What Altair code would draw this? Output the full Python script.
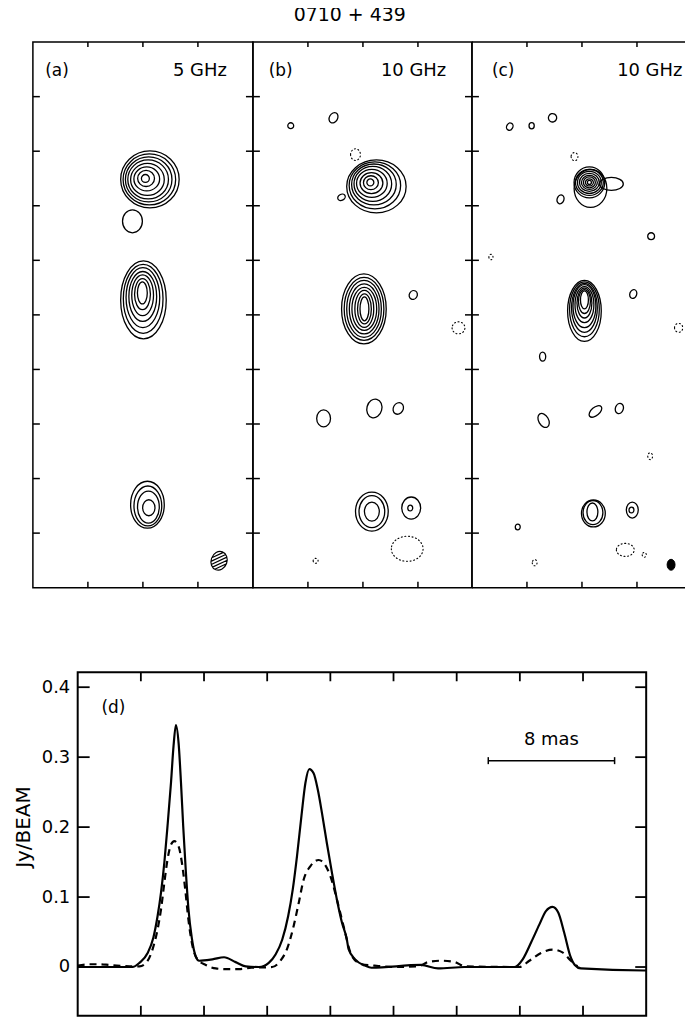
import math
import altair as alt
import pandas as pd

FONT = "DejaVu Sans"
PX = 13.75  # pixels per mas used for contour symbol sizing

# ---------------- panel (a) 5 GHz : contour centres / sizes (mas) ----------------
a_cx = [8.18, 8.23, 8.28, 8.33, 8.38, 8.42, 8.47, 8.51, 7.24,
        7.96, 7.97, 7.98, 7.99, 8.00, 8.02, 8.04,
        8.43, 8.40, 8.36, 8.33]
a_cy = [30.00, 30.00, 29.97, 29.93, 29.93, 29.93, 29.93, 29.93, 26.86,
        21.61, 21.52, 21.44, 21.35, 21.27, 21.18, 21.10,
        5.86, 5.91, 5.99, 6.08]
a_w = [0.58, 1.23, 1.88, 2.46, 2.97, 3.40, 3.84, 4.27, 1.45,
       0.72, 1.16, 1.59, 2.03, 2.46, 2.90, 3.33,
       0.90, 1.59, 2.03, 2.46]
a_h = [0.58, 1.17, 1.75, 2.34, 2.85, 3.29, 3.72, 4.16, 1.68,
       1.61, 2.26, 2.99, 3.65, 4.38, 5.04, 5.69,
       1.17, 2.34, 2.92, 3.43]
a_ang = [0] * 20
a_dot = [0] * 20

# ---------------- panel (b) 10 GHz ----------------
b_cx = [8.54, 8.58, 8.62, 8.65, 8.72, 8.80, 8.87, 8.98,
        6.44, 2.75, 5.86, 7.46,
        8.11, 8.11, 8.10, 8.10, 8.09, 8.08, 8.08, 8.07,
        11.66, 14.95,
        5.14, 8.83, 10.57,
        8.65, 8.65, 8.65,
        11.51, 11.44, 11.22, 4.56]
b_cy = [29.71, 29.69, 29.66, 29.64, 29.60, 29.56, 29.49, 29.42,
        28.62, 33.87, 34.45, 31.75,
        20.44, 20.44, 20.44, 20.44, 20.44, 20.44, 20.44, 20.44,
        21.46, 19.05,
        12.41, 13.14, 13.14,
        5.58, 5.58, 5.58,
        5.84, 5.84, 2.85, 1.97]
b_w = [0.51, 1.09, 1.67, 2.24, 2.75, 3.26, 3.76, 4.34,
       0.58, 0.43, 0.60, 0.72,
       0.65, 1.01, 1.38, 1.81, 2.17, 2.53, 2.90, 3.26,
       0.58, 0.94,
       1.01, 1.09, 0.72,
       1.09, 1.88, 2.39,
       1.38, 0.36, 2.32, 0.36]
b_h = [0.51, 1.02, 1.53, 2.04, 2.56, 2.99, 3.43, 3.87,
       0.44, 0.43, 0.80, 0.85,
       1.75, 2.19, 2.70, 3.14, 3.65, 4.16, 4.60, 5.11,
       0.66, 0.88,
       1.24, 1.39, 0.88,
       1.39, 2.34, 2.85,
       1.61, 0.42, 1.83, 0.36]
b_ang = [0] * 8 + [330, 0, 30, 0] + [0] * 8 + [30, 0] + [0, 15, 30] + [0, 0, 0] + [0, 0, 0, 0]
b_dot = [0] * 8 + [0, 0, 0, 1] + [0] * 8 + [0, 1] + [0, 0, 0] + [0, 0, 0] + [0, 0, 1, 1]

# ---------------- panel (c) 10 GHz ----------------
c_cx = [8.54, 8.54, 8.54, 8.54, 8.54, 8.54, 8.54, 8.54, 8.62, 10.14,
        2.75, 4.34, 5.86, 7.46, 6.44, 13.03, 1.38,
        8.18, 8.18, 8.18, 8.18, 8.18, 8.18, 8.18, 8.18,
        11.73, 15.03, 5.14,
        5.21, 8.98, 10.72, 12.96,
        8.76, 8.80, 8.83, 11.66, 11.60, 3.33, 11.15, 12.53, 4.56]
c_cy = [29.71, 29.71, 29.71, 29.71, 29.71, 29.71, 29.71, 29.71, 29.27, 29.60,
        33.80, 33.87, 34.45, 31.60, 28.47, 25.77, 24.24,
        21.10, 20.98, 20.87, 20.75, 20.64, 20.52, 20.41, 20.29,
        21.53, 19.05, 16.94,
        12.26, 12.92, 13.14, 9.64,
        5.55, 5.50, 5.44, 5.69, 5.69, 4.45, 2.77, 2.41, 1.83]
c_w = [0.29, 0.58, 0.87, 1.16, 1.45, 1.74, 2.03, 2.24, 2.39, 1.74,
       0.45, 0.38, 0.60, 0.50, 0.50, 0.50, 0.30,
       0.58, 0.87, 1.09, 1.38, 1.67, 1.88, 2.17, 2.46,
       0.50, 0.60, 0.45,
       0.72, 1.10, 0.58, 0.35,
       0.80, 1.45, 1.74, 0.87, 0.36, 0.36, 1.30, 0.30, 0.35]
c_h = [0.29, 0.51, 0.80, 1.02, 1.31, 1.61, 1.90, 2.26, 2.77, 0.95,
       0.55, 0.45, 0.62, 0.60, 0.66, 0.50, 0.40,
       1.31, 1.75, 2.19, 2.63, 3.14, 3.58, 4.01, 4.45,
       0.66, 0.65, 0.66,
       1.10, 0.60, 0.76, 0.50,
       1.31, 1.75, 1.97, 1.17, 0.42, 0.42, 0.95, 0.35, 0.45]
c_ang = [0] * 10 + [30, 0, 30, 0, 20, 0, 0] + [0] * 8 + [20, 0, 0] + [330, 320, 20, 0] + [0] * 9
c_dot = [0] * 10 + [0, 0, 0, 1, 0, 0, 1] + [0] * 8 + [0, 1, 0] + [0, 0, 0, 1] + [0, 0, 0, 0, 0, 0, 1, 1, 1]

# restoring beams (panel a hatched, panel c filled)
beam_cx = [13.54, 14.48]
beam_cy = [1.97, 1.68]
beam_w = [1.16, 0.58]
beam_h = [1.39, 0.80]

panel_tags = ["(a)", "(b)", "(c)"]
panel_freq = ["5 GHz", "10 GHz", "10 GHz"]
tag_x = [0.9, 1.15, 1.45]
freq_x = [14.1, 14.05, 15.3]
label_y = 37.55
map_xticks = [4, 8, 12]
map_yticks = [4, 8, 12, 16, 20, 24, 28, 32, 36]

# ---------------- panel (d) profiles along the jet ----------------
solid_x = [0.0, 2.0, 3.47, 3.91, 4.43, 4.79, 5.06, 5.28, 5.49, 5.69, 5.91, 6.07, 6.22,
           6.39, 6.54, 6.68, 6.85, 7.01, 7.23, 7.48, 7.69, 8.53, 9.27, 10.0, 10.64, 11.48,
           12.1, 12.53, 12.95, 13.33, 13.62, 13.89, 14.17, 14.42, 14.67,
           14.94, 15.21, 15.47, 15.78, 16.1, 16.41, 16.73, 17.04, 17.15, 17.57, 18.2, 18.6,
           21.75, 22.82, 24.5, 27.66, 28.18, 28.71, 29.24, 29.65, 30.07, 30.43, 30.81,
           31.19, 31.48, 31.86, 35.86, 36.0]
solid_y = [0.0, 0.0, 0.0, 0.006, 0.02, 0.042, 0.073, 0.107, 0.15, 0.202, 0.264, 0.316, 0.346,
           0.32, 0.264, 0.202, 0.136, 0.084, 0.041, 0.015, 0.009, 0.011, 0.014, 0.007, 0.001, 0.0,
           0.006, 0.018, 0.039, 0.073, 0.111, 0.159, 0.216, 0.263, 0.283,
           0.277, 0.253, 0.22, 0.177, 0.135, 0.097, 0.064, 0.04, 0.026, 0.011, 0.002, -0.001,
           0.003, -0.002, 0.0, 0.0, 0.011, 0.035, 0.061, 0.08, 0.086, 0.078, 0.049,
           0.016, 0.003, -0.002, -0.005, -0.005]
dash_x = [0.0, 0.76, 1.3, 2.02, 3.28, 3.91, 4.33, 4.75, 5.06, 5.28, 5.49, 5.69, 5.91, 6.12,
          6.39, 6.6, 6.81, 7.01, 7.27, 7.58, 8.11, 8.74, 9.4, 10.2, 11.0, 12.31,
          12.84, 13.26, 13.68, 14.0, 14.31, 14.73, 15.26, 15.57, 16.0, 16.41, 16.83,
          17.36, 17.99, 18.8, 20.0, 21.56, 22.19, 23.03, 23.88, 24.51, 27.97,
          28.6, 29.34, 30.07, 30.7, 31.23, 31.65]
dash_y = [0.002, 0.004, 0.004, 0.003, 0.001, 0.001, 0.006, 0.026, 0.054, 0.083, 0.121, 0.154, 0.175, 0.18,
          0.1725, 0.149, 0.111, 0.068, 0.03, 0.011, 0.003, -0.002, -0.003, -0.003, -0.001, 0.0,
          0.009, 0.026, 0.059, 0.092, 0.125, 0.144, 0.153, 0.149, 0.13, 0.097, 0.059,
          0.016, 0.004, 0.002, 0.0, 0.001, 0.007, 0.009, 0.007, 0.001, 0.0,
          0.009, 0.02, 0.025, 0.021, 0.009, 0.001]
prof_xticks = [4, 8, 12, 16, 20, 24, 28, 32]
prof_yticks = [0, 0.1, 0.2, 0.3, 0.4]
bar_x0, bar_x1, bar_y = 26, 34, 0.295


def ellipse_path(w, h):
    m = max(w, h)
    rx, ry = w / m, h / m
    return (f"M{-rx:.4f},0A{rx:.4f},{ry:.4f} 0 1 0 {rx:.4f},0"
            f"A{rx:.4f},{ry:.4f} 0 1 0 {-rx:.4f},0Z")


def hatch_path(w, h, n=5):
    m = max(w, h)
    rx, ry = w / m, h / m
    A, B = 1 / (2 * rx * rx), 1 / (2 * ry * ry)
    s = ellipse_path(w, h)
    dmax = math.sqrt((rx * rx + ry * ry) / 2)
    r2 = math.sqrt(2)
    for k in range(n):
        d = -dmax + (k + 1) * 2 * dmax / (n + 1)
        a, b, c = A + B, 2 * d * (A - B), (A + B) * d * d - 1
        disc = b * b - 4 * a * c
        if disc <= 0:
            continue
        t1 = (-b - math.sqrt(disc)) / (2 * a)
        t2 = (-b + math.sqrt(disc)) / (2 * a)
        s += (f"M{(d + t1) / r2:.4f},{(d - t1) / r2:.4f}"
              f"L{(d + t2) / r2:.4f},{(d - t2) / r2:.4f}")
    return s


def contour_df(cx, cy, w, h, ang, dot):
    df = pd.DataFrame({"cx": cx, "cy": cy, "w": w, "h": h, "ang": ang, "neg": dot})
    df["sz"] = df[["w", "h"]].max(axis=1) ** 2
    df["path"] = [ellipse_path(a, b) for a, b in zip(df["w"], df["h"])]
    return df


SIZE = alt.Size("sz:Q", scale=alt.Scale(type="linear", domain=[0, 100], range=[0, 100 * PX * PX]),
                legend=None)
ONE = pd.DataFrame({"k": [0]})


def sym_layer(df, xs, ys, **mk):
    base = dict(opacity=1, color="black", strokeWidth=1.3)
    base.update(mk)
    return alt.Chart(df).mark_point(**base).encode(
        x=alt.X("cx:Q", scale=xs, axis=None),
        y=alt.Y("cy:Q", scale=ys, axis=None),
        shape=alt.Shape("path:N", scale=None),
        size=SIZE,
        angle=alt.Angle("ang:Q", scale=None),
    )


def panel(i, W, H, cx, cy, w, h, ang, dot, open_right=False):
    xs = alt.Scale(domain=[0, 16 * W / 221], nice=False, zero=False)
    ys = alt.Scale(domain=[0, 40], nice=False, zero=False)
    df = contour_df(cx, cy, w, h, ang, dot)
    layers = [sym_layer(df[df["neg"] == 0], xs, ys, filled=False)]
    neg = df[df["neg"] == 1]
    if len(neg):
        layers.append(sym_layer(neg, xs, ys, filled=False, strokeWidth=1.1,
                                strokeDash=[1, 2.6], strokeCap="round"))
    if i == 0:
        bdf = pd.DataFrame({"cx": [beam_cx[0]], "cy": [beam_cy[0]], "sz": [max(beam_w[0], beam_h[0]) ** 2],
                            "ang": [20], "path": [hatch_path(beam_w[0], beam_h[0])]})
        layers.append(sym_layer(bdf, xs, ys, filled=False, strokeWidth=1.2))
    if i == 2:
        bdf = pd.DataFrame({"cx": [beam_cx[1]], "cy": [beam_cy[1]], "sz": [max(beam_w[1], beam_h[1]) ** 2],
                            "ang": [0], "path": [ellipse_path(beam_w[1], beam_h[1])]})
        layers.append(sym_layer(bdf, xs, ys, filled=True, stroke="black", strokeWidth=1))
    tx = pd.DataFrame({"v": map_xticks})
    ty = pd.DataFrame({"v": map_yticks})
    rule = dict(color="black", strokeWidth=1.5)
    layers += [
        alt.Chart(tx).mark_rule(**rule).encode(x=alt.X("v:Q", scale=xs, axis=None),
                                               y=alt.value(0), y2=alt.value(5)),
        alt.Chart(tx).mark_rule(**rule).encode(x=alt.X("v:Q", scale=xs, axis=None),
                                               y=alt.value(H), y2=alt.value(H - 6)),
        alt.Chart(ty).mark_rule(**rule).encode(y=alt.Y("v:Q", scale=ys, axis=None),
                                               x=alt.value(0), x2=alt.value(7)),
        alt.Chart(ONE).mark_text(align="left", baseline="alphabetic", fontSize=17, font=FONT,
                                 color="black").encode(
            x=alt.XDatum(tag_x[i], scale=xs, axis=None), y=alt.YDatum(label_y, scale=ys, axis=None),
            text=alt.value(panel_tags[i])),
        alt.Chart(ONE).mark_text(align="right", baseline="alphabetic", fontSize=18, font=FONT,
                                 color="black").encode(
            x=alt.XDatum(freq_x[i], scale=xs, axis=None), y=alt.YDatum(label_y, scale=ys, axis=None),
            text=alt.value(panel_freq[i])),
    ]
    props = dict(width=W, height=H)
    if open_right:
        # frame runs off the right edge of the page: draw only left, top and bottom sides
        layers += [
            alt.Chart(ONE).mark_rule(**rule).encode(x=alt.value(0), y=alt.value(0), y2=alt.value(H)),
            alt.Chart(ONE).mark_rule(**rule).encode(y=alt.value(0), x=alt.value(0), x2=alt.value(W)),
            alt.Chart(ONE).mark_rule(**rule).encode(y=alt.value(H), x=alt.value(0), x2=alt.value(W)),
        ]
        props["view"] = alt.ViewBackground(stroke="transparent")
    else:
        layers.append(alt.Chart(ty).mark_rule(**rule).encode(
            y=alt.Y("v:Q", scale=ys, axis=None), x=alt.value(W), x2=alt.value(W - 7)))
    return alt.layer(*layers).properties(**props)


H_MAP = 548
pa = panel(0, 221, H_MAP, a_cx, a_cy, a_w, a_h, a_ang, a_dot)
pb = panel(1, 220, H_MAP, b_cx, b_cy, b_w, b_h, b_ang, b_dot)
pc = panel(2, 214, H_MAP, c_cx, c_cy, c_w, c_h, c_ang, c_dot, open_right=True)
top = alt.hconcat(pa, pb, pc, spacing=0, bounds="flush")

# ---------------- panel (d) ----------------
W_D, H_D = 571, 345
dxs = alt.Scale(domain=[0, 36], nice=False, zero=False)
dys = alt.Scale(domain=[-0.0697, 0.4213], nice=False, zero=False)
yaxis = alt.Axis(values=prof_yticks,
                 labelExpr="datum.value == 0 ? '0' : format(datum.value, '.1f')",
                 labelFont=FONT, labelFontSize=18, labelColor="black", labelPadding=8,
                 ticks=False, tickSize=0, domain=False, grid=False,
                 title="Jy/BEAM", titleFont=FONT, titleFontSize=20, titleFontWeight="normal",
                 titleColor="black", titleAngle=270, titleX=-54, titleY=155,
                 titleAlign="center", titleBaseline="middle")

sdf = pd.DataFrame({"x": solid_x, "y": solid_y})
ddf = pd.DataFrame({"x": dash_x, "y": dash_y})
solid = alt.Chart(sdf).mark_line(color="black", strokeWidth=2.2, interpolate="monotone").encode(
    x=alt.X("x:Q", scale=dxs, axis=None), y=alt.Y("y:Q", scale=dys, axis=yaxis))
dashed = alt.Chart(ddf).mark_line(color="black", strokeWidth=2.2, strokeDash=[7, 5],
                                  interpolate="monotone").encode(
    x=alt.X("x:Q", scale=dxs, axis=None), y=alt.Y("y:Q", scale=dys, axis=yaxis))

ptx = pd.DataFrame({"v": prof_xticks})
pty = pd.DataFrame({"v": prof_yticks})
r2 = dict(color="black", strokeWidth=1.8)
dticks = [
    alt.Chart(ptx).mark_rule(**r2).encode(x=alt.X("v:Q", scale=dxs, axis=None),
                                          y=alt.value(0), y2=alt.value(9)),
    alt.Chart(ptx).mark_rule(**r2).encode(x=alt.X("v:Q", scale=dxs, axis=None),
                                          y=alt.value(H_D), y2=alt.value(H_D - 10)),
    alt.Chart(pty).mark_rule(**r2).encode(y=alt.Y("v:Q", scale=dys, axis=yaxis),
                                          x=alt.value(0), x2=alt.value(12)),
    alt.Chart(pty).mark_rule(**r2).encode(y=alt.Y("v:Q", scale=dys, axis=yaxis),
                                          x=alt.value(W_D), x2=alt.value(W_D - 11)),
]
bar_df = pd.DataFrame({"x0": [bar_x0], "x1": [bar_x1], "y": [bar_y]})
cap_df = pd.DataFrame({"x": [bar_x0, bar_x1]})
cap_df["y0"] = bar_y - 0.005
cap_df["y1"] = bar_y + 0.005
bar = alt.Chart(bar_df).mark_rule(color="black", strokeWidth=1.5).encode(
    x=alt.X("x0:Q", scale=dxs, axis=None), x2="x1:Q", y=alt.Y("y:Q", scale=dys, axis=yaxis))
caps = alt.Chart(cap_df).mark_rule(color="black", strokeWidth=1.5).encode(
    x=alt.X("x:Q", scale=dxs, axis=None), y=alt.Y("y0:Q", scale=dys, axis=yaxis), y2="y1:Q")
bar_lbl = alt.Chart(ONE).mark_text(align="center", baseline="alphabetic", fontSize=18, font=FONT,
                                   color="black").encode(
    x=alt.XDatum(30, scale=dxs, axis=None), y=alt.YDatum(0.318, scale=dys, axis=yaxis),
    text=alt.value("8 mas"))
d_lbl = alt.Chart(ONE).mark_text(align="left", baseline="alphabetic", fontSize=17, font=FONT,
                                 color="black").encode(
    x=alt.XDatum(1.5, scale=dxs, axis=None), y=alt.YDatum(0.363, scale=dys, axis=yaxis),
    text=alt.value("(d)"))

prof = alt.layer(solid, dashed, *dticks, bar, caps, bar_lbl, d_lbl).properties(
    width=W_D, height=H_D, view=alt.ViewBackground(stroke="black", strokeWidth=2))

spacer = alt.Chart(ONE).mark_point(opacity=0).encode(
    x=alt.value(10), y=alt.value(100)
).properties(width=45, height=H_D, view=alt.ViewBackground(stroke="transparent"))
bottom = alt.hconcat(spacer, prof, spacing=0, bounds="flush")

chart = alt.vconcat(top, bottom, spacing=81).properties(
    title=alt.TitleParams("0710 + 439", fontSize=19, font=FONT, fontWeight="normal",
                          anchor="middle", offset=16, color="black"),
    padding={"left": 5, "top": -5, "right": 0, "bottom": 0},
).configure(font=FONT).configure_view(stroke="black", strokeWidth=1.5)

chart.save("out.html", embed_options={"renderer": "svg", "actions": False})
